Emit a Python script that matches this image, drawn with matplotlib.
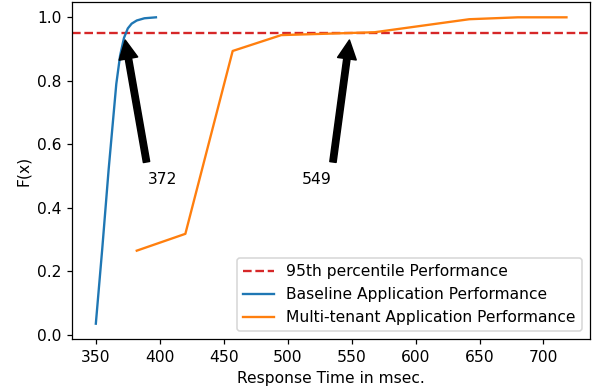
import matplotlib
matplotlib.use("Agg")
import matplotlib.pyplot as plt

baseline_x = [350, 355, 360, 366, 369, 372, 375, 378, 382, 388, 397]
baseline_f = [0.035, 0.27, 0.52, 0.79, 0.88, 0.935, 0.965, 0.98, 0.99, 0.997, 1.0]

multi_x = [382, 420, 457, 495, 568, 642, 680, 718]
multi_f = [0.265, 0.318, 0.894, 0.944, 0.953, 0.994, 1.0, 1.0]

percentile = 0.95
annot_points = [372, 549]
annot_text_x = [391, 511]
annot_text_y = 0.475

DPI = 112
fig = plt.figure(figsize=(595 / DPI, 392 / DPI), dpi=DPI)
ax = fig.add_axes([72.3 / 595, 53 / 392, (590 - 72.3) / 595, (339 - 2) / 392])

ax.axhline(percentile, color='tab:red', linestyle='--', lw=1.5, label='95th percentile Performance')
ax.plot(baseline_x, baseline_f, color='tab:blue', lw=1.5, label='Baseline Application Performance')
ax.plot(multi_x, multi_f, color='tab:orange', lw=1.5, label='Multi-tenant Application Performance')

for px, tx in zip(annot_points, annot_text_x):
    ax.annotate(str(px), xy=(px, percentile), xytext=(tx, annot_text_y),
                arrowprops=dict(facecolor='black', shrink=0.05))

ax.set_xlabel('Response Time in msec.')
ax.set_ylabel('F(x)')
ax.legend(loc='lower right')

fig.savefig('out.png', dpi=DPI)
